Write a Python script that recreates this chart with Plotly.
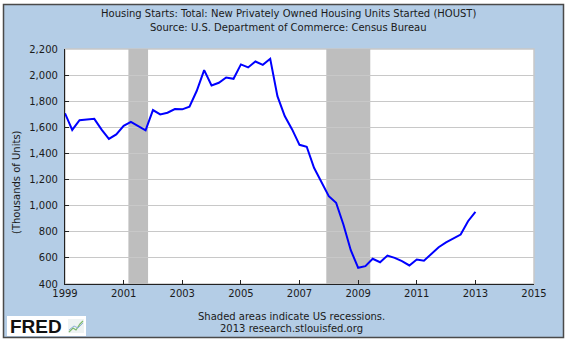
import plotly.graph_objects as go
import pandas as pd

# ---- data (quarterly, thousands of units, SAAR) ----
quarters = pd.date_range("1999-01-01", "2013-01-01", freq="QS").strftime("%Y-%m-%d").tolist()
houst = [
    1707, 1580, 1655, 1660,   # 1999
    1665, 1582, 1511, 1546,   # 2000
    1612, 1641, 1609, 1577,   # 2001
    1732, 1699, 1712, 1740,   # 2002
    1738, 1758, 1880, 2038,   # 2003
    1921, 1941, 1982, 1972,   # 2004
    2082, 2059, 2104, 2079,   # 2005
    2125, 1839, 1686, 1584,   # 2006
    1466, 1451, 1290, 1175,   # 2007
    1073, 1022, 856, 659,     # 2008
    524, 537, 593, 567,       # 2009
    618, 600, 575, 542,       # 2010
    588, 578, 631, 682,       # 2011
    718, 746, 779, 881,       # 2012
    953,                      # 2013
]
recession_start = ["2001-03-01", "2007-12-01"]
recession_end = ["2001-11-01", "2009-06-01"]
y_ticks = [400, 600, 800, 1000, 1200, 1400, 1600, 1800, 2000, 2200]
y_tick_text = ["400", "600", "800", "1,000", "1,200", "1,400", "1,600", "1,800", "2,000", "2,200"]

W, H = 570, 346
L, R, T, B = 65, 534, 49, 284


def px(x):
    return (x - L) / (R - L)


def py(y):
    return (B - y) / (B - T)


FONT = "DejaVu Sans"
BG = "#B4CDE6"

fig = go.Figure()
fig.add_trace(go.Scatter(
    x=quarters, y=houst, mode="lines",
    line=dict(color="#0000FF", width=2), hoverinfo="skip", showlegend=False,
))

shapes = []
# outer light-blue panel with dark border
shapes.append(dict(type="rect", xref="paper", yref="paper", x0=px(3.5), x1=px(563.5), y0=py(337.5), y1=py(4.5),
                   line=dict(color="#4a4a4a", width=1.5), fillcolor=BG, layer="below"))
# plot area white with light grey border
shapes.append(dict(type="rect", xref="paper", yref="paper", x0=0, x1=1, y0=0, y1=1,
                   line=dict(color="#c8c8c8", width=1.5), fillcolor="white", layer="below"))
# recession bands
for s, e in zip(recession_start, recession_end):
    shapes.append(dict(type="rect", xref="x", yref="paper", x0=s, x1=e, y0=0, y1=1,
                       fillcolor="#BEBEBE", line=dict(width=0), layer="between"))
# FRED logo box
shapes.append(dict(type="rect", xref="paper", yref="paper", x0=px(7), x1=px(86), y0=py(336), y1=py(316),
                   fillcolor="white", line=dict(width=0), layer="above"))
# small logo icon
shapes.append(dict(type="rect", xref="paper", yref="paper", x0=px(68), x1=px(84), y0=py(333), y1=py(319),
                   fillcolor="#eef3f3", line=dict(width=0), layer="above"))
shapes.append(dict(type="path", xref="paper", yref="paper",
                   path="M %f,%f L %f,%f L %f,%f L %f,%f L %f,%f" % (
                       px(69), py(332), px(73), py(328), px(76), py(330), px(80), py(324), px(83), py(321)),
                   line=dict(color="#7bb86a", width=1.2), layer="above"))
shapes.append(dict(type="path", xref="paper", yref="paper",
                   path="M %f,%f L %f,%f L %f,%f L %f,%f" % (
                       px(69), py(330), px(74), py(326), px(78), py(328), px(83), py(323)),
                   line=dict(color="#8fb0d8", width=1), layer="above"))

annotations = [
    dict(text="Housing Starts: Total: New Privately Owned Housing Units Started (HOUST)",
         xref="paper", yref="paper", x=px(288), y=py(14), showarrow=False,
         font=dict(family=FONT, size=10, color="#1a1a1a"), xanchor="center", yanchor="middle"),
    dict(text="Source: U.S. Department of Commerce: Census Bureau",
         xref="paper", yref="paper", x=px(288), y=py(27), showarrow=False,
         font=dict(family=FONT, size=10, color="#1a1a1a"), xanchor="center", yanchor="middle"),
    dict(text="(Thousands of Units)", xref="paper", yref="paper", x=px(16), y=py(182),
         showarrow=False, textangle=-90, font=dict(family=FONT, size=10, color="#1a1a1a"),
         xanchor="center", yanchor="middle"),
    dict(text="Shaded areas indicate US recessions.", xref="paper", yref="paper", x=px(291), y=py(316),
         showarrow=False, font=dict(family=FONT, size=10, color="#1a1a1a"), xanchor="center", yanchor="middle"),
    dict(text="2013 research.stlouisfed.org", xref="paper", yref="paper", x=px(291), y=py(328),
         showarrow=False, font=dict(family=FONT, size=10, color="#1a1a1a"), xanchor="center", yanchor="middle"),
    dict(text="<b>FRED</b>", xref="paper", yref="paper", x=px(8), y=py(326.5),
         showarrow=False, font=dict(family="Liberation Sans", size=19, color="#111111"),
         xanchor="left", yanchor="middle"),
]

fig.update_layout(
    width=W, height=H,
    margin=dict(l=L, r=W - R, t=T, b=H - B, pad=0),
    paper_bgcolor="white", plot_bgcolor="rgba(0,0,0,0)",
    shapes=shapes, annotations=annotations, showlegend=False,
    font=dict(family=FONT, size=10, color="#1a1a1a"),
)
fig.update_xaxes(
    type="date", range=["1999-01-01", "2015-01-01"],
    tick0="1999-01-01", dtick="M24", tickformat="%Y",
    ticks="inside", ticklen=4, tickcolor="#222", tickwidth=1,
    showline=True, linecolor="#222", linewidth=1.2,
    showgrid=False, zeroline=False,
    tickfont=dict(family=FONT, size=10, color="#1a1a1a"),
)
fig.update_yaxes(
    range=[400, 2200], tickvals=y_ticks, ticktext=y_tick_text,
    ticks="inside", ticklen=4, tickcolor="#222", tickwidth=1,
    showline=True, linecolor="#222", linewidth=1.2,
    showgrid=True, gridcolor="#c8c8c8", gridwidth=1.2, zeroline=False,
    tickfont=dict(family=FONT, size=10, color="#1a1a1a"), ticklabelstandoff=4,
)

fig.write_html("out.html")
